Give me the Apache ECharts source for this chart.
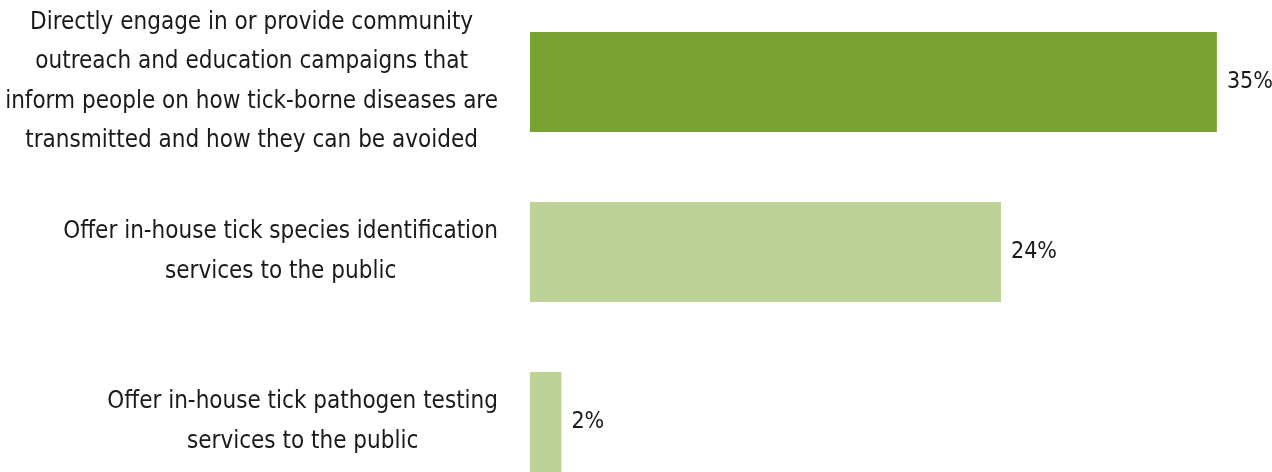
<!DOCTYPE html>
<html>
<head>
<meta charset="utf-8">
<script src="https://cdn.jsdelivr.net/npm/echarts@6/dist/echarts.min.js"></script>
<style>
html,body{margin:0;padding:0;background:#fff;}
#chart{width:1272px;height:472px;}
</style>
</head>
<body>
<div id="chart"></div>
<script>
const categories = [
  ["Directly engage in or provide community", "outreach and education campaigns that", "inform people on how tick-borne diseases are", "transmitted and how they can be avoided"],
  ["Offer in-house tick species identification", "services to the public"],
  ["Offer in-house tick pathogen testing", "services to the public"]
];
const values = [35, 24, 1.6];
const barColors = ["#77A232", "#BCD297", "#BCD297"];

const FONT = '"DejaVu Sans Condensed", "Liberation Sans Narrow", sans-serif';
const chart = echarts.init(document.getElementById('chart'));
chart.setOption({
  animation: false,
  grid: { left: 530, top: -3, width: 785, height: 510, containLabel: false, outerBoundsMode: 'none' },
  xAxis: { type: 'value', min: 0, max: 40, show: false },
  yAxis: {
    type: 'category', inverse: true,
    data: categories.map(l => l.join('\n')),
    axisLine: { show: false }, axisTick: { show: false },
    axisLabel: {
      margin: 32,
      align: 'right',
      formatter: v => v.split('\n').map(s => '{c|' + s + '}').join('\n'),
      rich: { c: { align: 'center', fontFamily: FONT, fontSize: 24, lineHeight: 39.5, color: '#1a1a1a' } }
    }
  },
  series: [{
    type: 'bar',
    barWidth: 100,
    data: values.map((v, i) => ({ value: v, itemStyle: { color: barColors[i] } })),
    label: {
      show: true, position: 'right', distance: 10,
      formatter: p => Math.round(p.value) + '%',
      fontFamily: FONT, fontSize: 23, color: '#1a1a1a'
    }
  }]
});
</script>
</body>
</html>
